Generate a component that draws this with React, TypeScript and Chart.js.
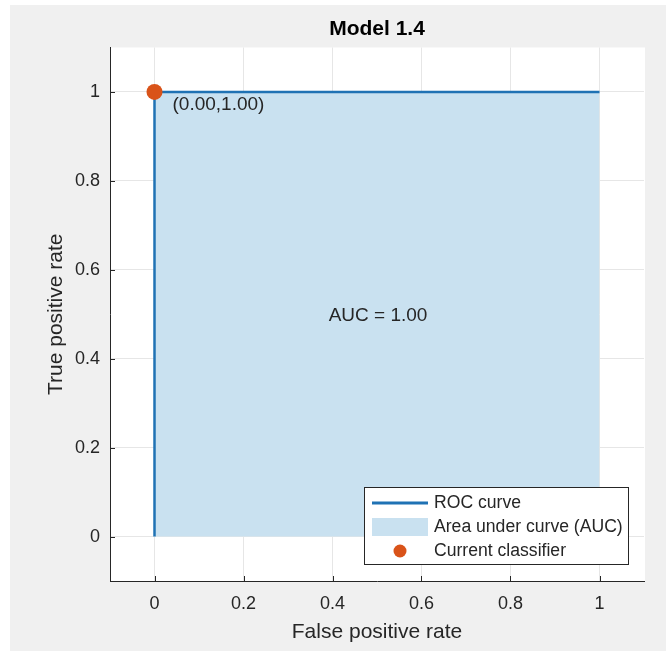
import React, { useEffect, useRef } from 'react';
import { Chart, registerables } from 'chart.js';

Chart.register(...registerables);

// ---- data ----
const rocFpr = [0, 0, 1];
const rocTpr = [0, 1, 1];
const aucFpr = [0, 0, 1, 1];
const aucTpr = [0, 1, 1, 0];
const classifierFpr = [0];
const classifierTpr = [1];
const tickValues = [0, 0.2, 0.4, 0.6, 0.8, 1];
const tickLabels = ['0', '0.2', '0.4', '0.6', '0.8', '1'];
const titleText = 'Model 1.4';
const xTitle = 'False positive rate';
const yTitle = 'True positive rate';
const aucLabel = 'AUC = 1.00';
const aucLabelPos = [0.5, 0.5];
const pointLabel = '(0.00,1.00)';
const legendLabels = ['ROC curve', 'Area under curve (AUC)', 'Current classifier'];

// ---- styles ----
const FONT = "'Liberation Sans', Arial, Helvetica, sans-serif";
const BLUE = '#1f72b4';
const FILL = '#c9e1f0';
const ORANGE = '#d95319';
const DARK = '#262626';

const toPts = (xs: number[], ys: number[]) => xs.map((x, i) => ({ x, y: ys[i] }));

const bgPlugin = {
  id: 'bgPlugin',
  beforeDraw(chart: any) {
    const { ctx, width, height, chartArea } = chart;
    ctx.save();
    ctx.fillStyle = '#ffffff';
    ctx.fillRect(0, 0, width, height);
    ctx.fillStyle = '#f0f0f0';
    ctx.fillRect(10, 5, width - 10, height - 5);
    ctx.fillStyle = '#ffffff';
    ctx.fillRect(chartArea.left, chartArea.top, chartArea.right - chartArea.left + 1, chartArea.bottom - chartArea.top);
    // title, centred over the axes
    ctx.fillStyle = '#000000';
    ctx.font = `bold 21px ${FONT}`;
    ctx.textAlign = 'center';
    ctx.textBaseline = 'middle';
    ctx.fillText(titleText, (chartArea.left + chartArea.right) / 2, 29);
    ctx.restore();
  },
};

const annotPlugin = {
  id: 'annotPlugin',
  afterDatasetsDraw(chart: any) {
    const { ctx, chartArea } = chart;
    const xs = chart.scales.x;
    const ys = chart.scales.y;
    ctx.save();
    // inner tick marks
    ctx.strokeStyle = DARK;
    ctx.lineWidth = 1;
    ctx.beginPath();
    tickValues.forEach((v) => {
      const px = Math.round(xs.getPixelForValue(v)) + 0.5;
      ctx.moveTo(px, chartArea.bottom);
      ctx.lineTo(px, chartArea.bottom - 5);
      const py = Math.round(ys.getPixelForValue(v)) + 0.5;
      ctx.moveTo(chartArea.left, py);
      ctx.lineTo(chartArea.left + 5, py);
    });
    ctx.stroke();

    // texts
    ctx.fillStyle = DARK;
    ctx.font = `19px ${FONT}`;
    ctx.textBaseline = 'middle';
    ctx.textAlign = 'center';
    ctx.fillText(aucLabel, xs.getPixelForValue(aucLabelPos[0]) + 1, ys.getPixelForValue(aucLabelPos[1]) + 2);
    ctx.textAlign = 'left';
    ctx.fillText(
      pointLabel,
      xs.getPixelForValue(classifierFpr[0]) + 18,
      ys.getPixelForValue(classifierTpr[0]) + 13
    );
    ctx.restore();
  },
  afterDraw(chart: any) {
    const { ctx, chartArea } = chart;
    const w = 264;
    const h = 77;
    const right = chartArea.right - 16;
    const bottom = chartArea.bottom - 17;
    const left = right - w;
    const top = bottom - h;
    ctx.save();
    ctx.fillStyle = '#ffffff';
    ctx.fillRect(left, top, w, h);
    ctx.strokeStyle = DARK;
    ctx.lineWidth = 1;
    ctx.strokeRect(Math.round(left) + 0.5, Math.round(top) + 0.5, w, h);
    const rows = [top + 16, top + 40, top + 64];
    // ROC line sample
    ctx.strokeStyle = BLUE;
    ctx.lineWidth = 3;
    ctx.beginPath();
    ctx.moveTo(left + 8, rows[0]);
    ctx.lineTo(left + 64, rows[0]);
    ctx.stroke();
    // area sample
    ctx.fillStyle = FILL;
    ctx.fillRect(left + 8, rows[1] - 9, 56, 18);
    // point sample
    ctx.fillStyle = ORANGE;
    ctx.beginPath();
    ctx.arc(left + 36, rows[2], 6.5, 0, Math.PI * 2);
    ctx.fill();
    // labels
    ctx.fillStyle = DARK;
    ctx.font = `17.6px ${FONT}`;
    ctx.textBaseline = 'middle';
    ctx.textAlign = 'left';
    legendLabels.forEach((t, i) => ctx.fillText(t, left + 70, rows[i]));
    ctx.restore();
  },
};

export default function App() {
  const ref = useRef<HTMLCanvasElement | null>(null);
  useEffect(() => {
    document.body.style.margin = '0';
    const canvas = ref.current;
    if (!canvas) return;
    const chart = new Chart(canvas, {
      type: 'scatter',
      data: {
        datasets: [
          {
            label: legendLabels[2],
            data: toPts(classifierFpr, classifierTpr),
            backgroundColor: ORANGE,
            borderWidth: 0,
            pointRadius: 8,
            pointHoverRadius: 8,
            showLine: false,
            order: 0,
          } as any,
          {
            label: legendLabels[0],
            data: toPts(rocFpr, rocTpr),
            borderColor: BLUE,
            borderWidth: 2.5,
            pointRadius: 0,
            showLine: true,
            fill: false,
            tension: 0,
            order: 1,
          },
          {
            label: legendLabels[1],
            data: toPts(aucFpr, aucTpr),
            borderWidth: 0,
            borderColor: 'rgba(0,0,0,0)',
            backgroundColor: FILL,
            pointRadius: 0,
            showLine: true,
            fill: 'origin',
            tension: 0,
            order: 2,
          },
        ],
      },
      options: {
        responsive: false,
        animation: false,
        devicePixelRatio: 1,
        layout: { padding: { left: 0, right: 22, top: 47.5, bottom: 0 } },
        plugins: {
          legend: { display: false },
          tooltip: { enabled: false },
          title: { display: false },
        },
        scales: {
          x: {
            type: 'linear',
            min: -0.1,
            max: 1.1,
            afterBuildTicks: (scale: any) => {
              scale.ticks = tickValues.map((v) => ({ value: v }));
            },
            afterFit: (scale: any) => {
              scale.height = 70;
            },
            ticks: {
              color: DARK,
              font: { family: FONT, size: 18 },
              padding: 12,
              maxRotation: 0,
              autoSkip: false,
              callback: (v: any) => {
                const i = tickValues.indexOf(Number(v));
                return i >= 0 ? tickLabels[i] : '';
              },
            },
            grid: { color: '#e6e6e6', drawTicks: false, lineWidth: 1 },
            border: { display: true, color: DARK, width: 1 },
            title: {
              display: true,
              text: xTitle,
              color: DARK,
              font: { family: FONT, size: 21, lineHeight: 1.2 },
              padding: { top: 0, bottom: 6.4 },
            },
          },
          y: {
            type: 'linear',
            min: -0.1,
            max: 1.1,
            afterBuildTicks: (scale: any) => {
              scale.ticks = tickValues.map((v) => ({ value: v }));
            },
            afterFit: (scale: any) => {
              scale.width = 110;
            },
            ticks: {
              color: DARK,
              font: { family: FONT, size: 18 },
              padding: 10,
              autoSkip: false,
              callback: (v: any) => {
                const i = tickValues.indexOf(Number(v));
                return i >= 0 ? tickLabels[i] : '';
              },
            },
            grid: { color: '#e6e6e6', drawTicks: false, lineWidth: 1 },
            border: { display: true, color: DARK, width: 1 },
            title: {
              display: true,
              text: yTitle,
              color: DARK,
              font: { family: FONT, size: 21, lineHeight: 1.2 },
              padding: { top: 43.4, bottom: 0 },
            },
          },
        },
      },
      plugins: [bgPlugin, annotPlugin],
    });
    return () => chart.destroy();
  }, []);
  return <canvas ref={ref} width={666} height={651} style={{ display: 'block' }} />;
}
